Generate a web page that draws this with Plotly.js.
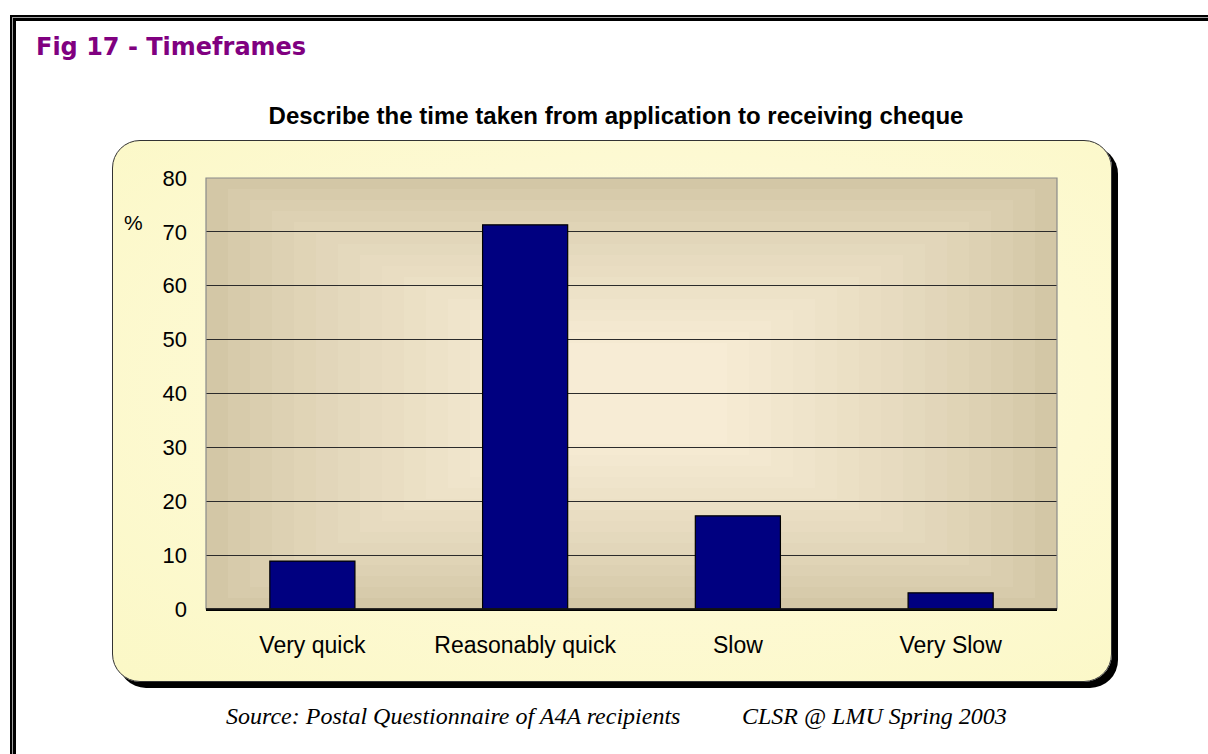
<!DOCTYPE html>
<html>
<head>
<meta charset="utf-8">
<script src="https://cdn.plot.ly/plotly-3.0.1.min.js"></script>
<style>
  html, body { margin:0; padding:0; width:1208px; height:754px; overflow:hidden; background:#fff; }
  .abs { position:absolute; }
  #chart { position:absolute; left:0; top:0; width:1208px; height:754px; z-index:10; }
</style>
</head>
<body>
<div class="abs" style="left:10px;top:15px;width:1400px;height:900px;background:#000;"></div>
<div class="abs" style="left:12px;top:17px;width:1400px;height:900px;background:#a0a0a0;"></div>
<div class="abs" style="left:13px;top:18px;width:1400px;height:900px;background:#000;"></div>
<div class="abs" style="left:16px;top:21px;width:1400px;height:900px;background:#fff;"></div>
<div class="abs" style="left:112px;top:140px;width:998px;height:540px;border:1.5px solid #333;border-radius:28px;box-shadow:6px 6px 0 #000;background:radial-gradient(ellipse at 55% 45%, #fffbe2 0%, #fdf9d2 55%, #fbf8c6 100%);"></div>
<div id="bands"></div>
<div id="chart"></div>
<script>
// ---- data ----
const categories = ["Very quick", "Reasonably quick", "Slow", "Very Slow"];
const percentages = [8.9, 71.3, 17.3, 3.0];
const yTickValues = [0, 10, 20, 30, 40, 50, 60, 70, 80];
const chartTitle = "Describe the time taken from application to receiving cheque";
const figTitle = "Fig 17 - Timeframes";
const sourceText = "Source: Postal Questionnaire of A4A recipients";
const creditText = "CLSR @ LMU Spring 2003";

// ---- plot-area geometry (pixels) ----
const PL = 206, PR = 1057, PT = 178, PB = 609;
const W = 1208, H = 754;
const pxX = x => (x - PL) / (PR - PL);
const pxY = y => (PB - y) / (PB - PT);

// stepped rectangular gradient behind the plot area
(function () {
  const host = document.getElementById('bands');
  const outer = [211, 199, 166], inner = [247, 236, 213];
  const n = 16, dx = 22, dy = 11;
  for (let i = 0; i < n; i++) {
    const t = i / (n - 1);
    const c = outer.map((v, k) => Math.round(v + (inner[k] - v) * Math.pow(t, 0.8)));
    const d = document.createElement('div');
    d.className = 'abs';
    d.style.left = (PL + i * dx) + 'px';
    d.style.top = (PT + i * dy) + 'px';
    d.style.width = (PR - PL - 2 * i * dx) + 'px';
    d.style.height = (PB - PT - 2 * i * dy) + 'px';
    d.style.background = `rgb(${c[0]},${c[1]},${c[2]})`;
    host.appendChild(d);
  }
})();

const FONT = "Arial, 'Liberation Sans', sans-serif";
const SERIF = "'Times New Roman', 'Liberation Serif', serif";

const trace = {
  type: 'bar',
  x: categories,
  y: percentages,
  marker: { color: '#000080', line: { color: '#000000', width: 1.2 } },
  hoverinfo: 'x+y'
};

const layout = {
  width: W, height: H,
  margin: { l: PL, r: W - PR, t: PT, b: H - PB, pad: 0 },
  paper_bgcolor: 'rgba(0,0,0,0)',
  plot_bgcolor: 'rgba(0,0,0,0)',
  showlegend: false,
  bargap: 0.6,
  title: {
    text: '<b>' + chartTitle + '</b>',
    font: { family: FONT, size: 24, color: '#000' },
    xref: 'paper', x: pxX(616), xanchor: 'center',
    yref: 'container', y: 1 - 116 / H, yanchor: 'middle'
  },
  xaxis: {
    type: 'category',
    showgrid: false,
    showline: true, linecolor: '#000', linewidth: 1.5,
    ticks: '', ticklabelstandoff: 15,
    tickfont: { family: FONT, size: 23, color: '#000' },
    fixedrange: true
  },
  yaxis: {
    range: [0, 80],
    tickmode: 'array', tickvals: yTickValues,
    showgrid: true, gridcolor: '#2b2b2b', gridwidth: 1,
    zeroline: false, showline: false,
    ticks: '', ticklabelstandoff: 18,
    tickfont: { family: FONT, size: 22, color: '#000' },
    fixedrange: true
  },
  shapes: [
    { type: 'rect', xref: 'paper', yref: 'paper', x0: 0, x1: 1, y0: 0, y1: 1,
      line: { color: '#8a8a8a', width: 1.2 }, fillcolor: 'rgba(0,0,0,0)', layer: 'above' },
    { type: 'line', xref: 'paper', yref: 'paper', x0: 0, x1: 1, y0: 0, y1: 0,
      line: { color: '#000', width: 1.5 }, layer: 'above' }
  ],
  annotations: [
    { text: '<b>' + figTitle + '</b>', xref: 'paper', yref: 'paper',
      x: pxX(34), y: pxY(47), xanchor: 'left', yanchor: 'middle', showarrow: false,
      font: { family: "'DejaVu Sans', sans-serif", size: 24, color: '#800080' } },
    { text: '%', xref: 'paper', yref: 'paper', x: pxX(133), y: pxY(222),
      xanchor: 'center', yanchor: 'middle', showarrow: false,
      font: { family: FONT, size: 21, color: '#000' } },
    { text: '<i>' + sourceText + '</i>', xref: 'paper', yref: 'paper',
      x: pxX(224), y: pxY(716), xanchor: 'left', yanchor: 'middle', showarrow: false,
      font: { family: SERIF, size: 24, color: '#000' } },
    { text: '<i>' + creditText + '</i>', xref: 'paper', yref: 'paper',
      x: pxX(740), y: pxY(716), xanchor: 'left', yanchor: 'middle', showarrow: false,
      font: { family: SERIF, size: 24, color: '#000' } }
  ]
};

Plotly.newPlot('chart', [trace], layout, { displayModeBar: false, staticPlot: true });
</script>
</body>
</html>
